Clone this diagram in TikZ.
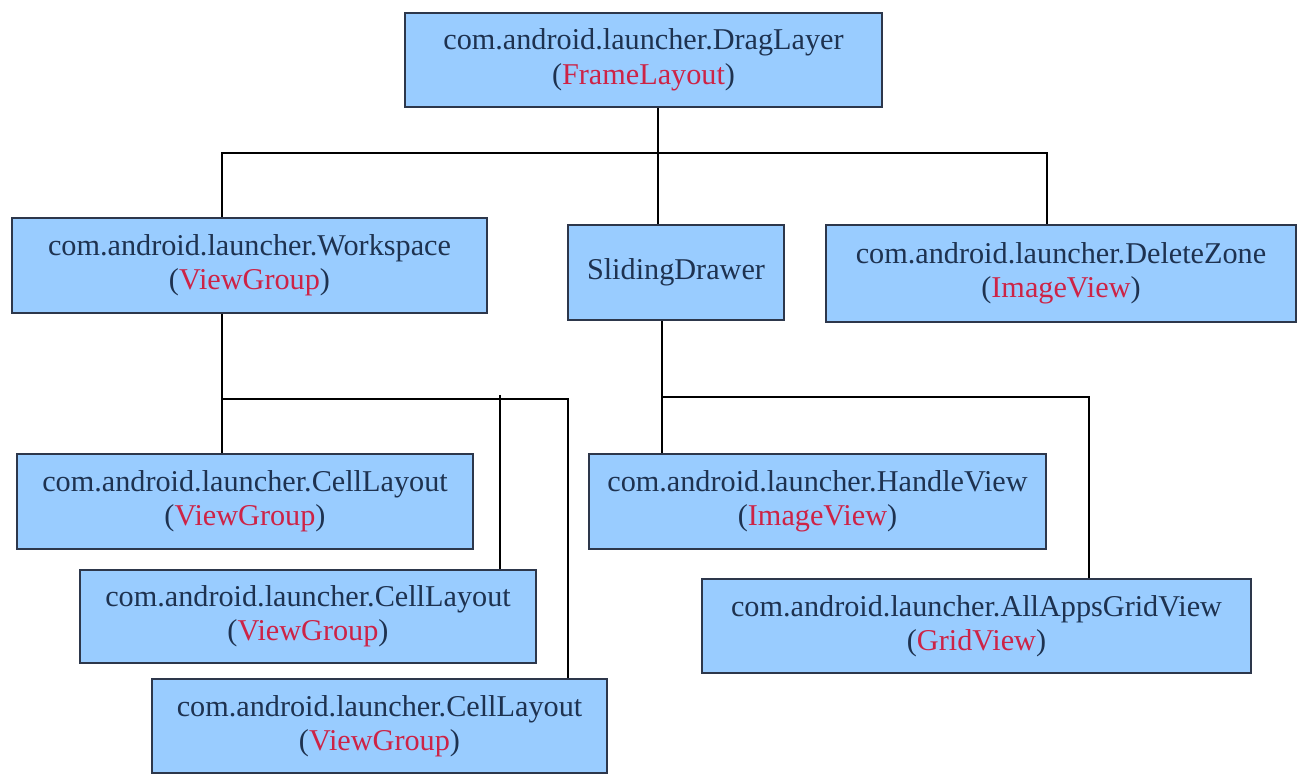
\documentclass[tikz,border=0pt]{standalone}
\usepackage{fontspec}
\setmainfont{Liberation Serif}
\usepackage{tikz}
\definecolor{boxfill}{RGB}{153,204,255}
\definecolor{boxline}{RGB}{45,55,75}
\definecolor{namecol}{RGB}{30,50,80}
\definecolor{typered}{RGB}{205,35,70}
\newcommand{\vtype}[1]{(\textcolor{typered}{#1})}
\tikzset{
  viewbox/.style={draw=boxline, line width=0.8pt, fill=boxfill, text=namecol,
    align=center, inner sep=0pt, font=\fontsize{8.6}{9.8}\selectfont},
  link/.style={line width=0.6pt, black}
}

\begin{document}
\begin{tikzpicture}
\useasboundingbox (0,0) rectangle (12.99,-7.75);

% --- Root ---
\node[viewbox, minimum width=4.77cm, minimum height=0.94cm] (draglayer) at (6.435,-0.60)
  {com.android.launcher.DragLayer\\\vtype{FrameLayout}};

% --- Second row ---
\node[viewbox, minimum width=4.75cm, minimum height=0.95cm] (workspace) at (2.495,-2.655)
  {com.android.launcher.Workspace\\\vtype{ViewGroup}};
\node[viewbox, minimum width=2.16cm, minimum height=0.95cm] (drawer) at (6.76,-2.725)
  {SlidingDrawer};
\node[viewbox, minimum width=4.70cm, minimum height=0.97cm] (deletezone) at (10.61,-2.735)
  {com.android.launcher.DeleteZone\\\vtype{ImageView}};

% --- Workspace children ---
\node[viewbox, minimum width=4.56cm, minimum height=0.95cm] (cell1) at (2.45,-5.015)
  {com.android.launcher.CellLayout\\\vtype{ViewGroup}};
\node[viewbox, minimum width=4.56cm, minimum height=0.93cm] (cell2) at (3.08,-6.165)
  {com.android.launcher.CellLayout\\\vtype{ViewGroup}};
\node[viewbox, minimum width=4.55cm, minimum height=0.94cm] (cell3) at (3.795,-7.26)
  {com.android.launcher.CellLayout\\\vtype{ViewGroup}};

% --- SlidingDrawer children ---
\node[viewbox, minimum width=4.57cm, minimum height=0.95cm] (handle) at (8.175,-5.015)
  {com.android.launcher.HandleView\\\vtype{ImageView}};
\node[viewbox, minimum width=5.49cm, minimum height=0.94cm] (allapps) at (9.765,-6.26)
  {com.android.launcher.AllAppsGridView\\\vtype{GridView}};

% --- Junction points ---
\coordinate (busL) at (2.22,-1.53);
\coordinate (busM) at (6.58,-1.53);
\coordinate (busR) at (10.47,-1.53);
\coordinate (wsbus) at (2.22,-3.99);
\coordinate (wsmid) at (5.00,-3.99);
\coordinate (wsend) at (5.68,-3.99);
\coordinate (sdbus) at (6.62,-3.97);
\coordinate (sdend) at (10.89,-3.97);

% --- Connectors ---
\draw[link] (draglayer.south -| busM) -- (busM |- drawer.north);
\draw[link] (busL |- workspace.north) -- (busL) -- (busR) -- (busR |- deletezone.north);

\draw[link] (workspace.south -| wsbus) -- (wsbus |- cell1.north);
\draw[link] (wsbus) -- (wsend) -- (wsend |- cell3.north);
\draw[link] ([yshift=1.2pt]wsmid) -- (wsmid |- cell2.north);

\draw[link] (drawer.south -| sdbus) -- (sdbus |- handle.north);
\draw[link] (sdbus) -- (sdend) -- (sdend |- allapps.north);

\end{tikzpicture}
\end{document}
